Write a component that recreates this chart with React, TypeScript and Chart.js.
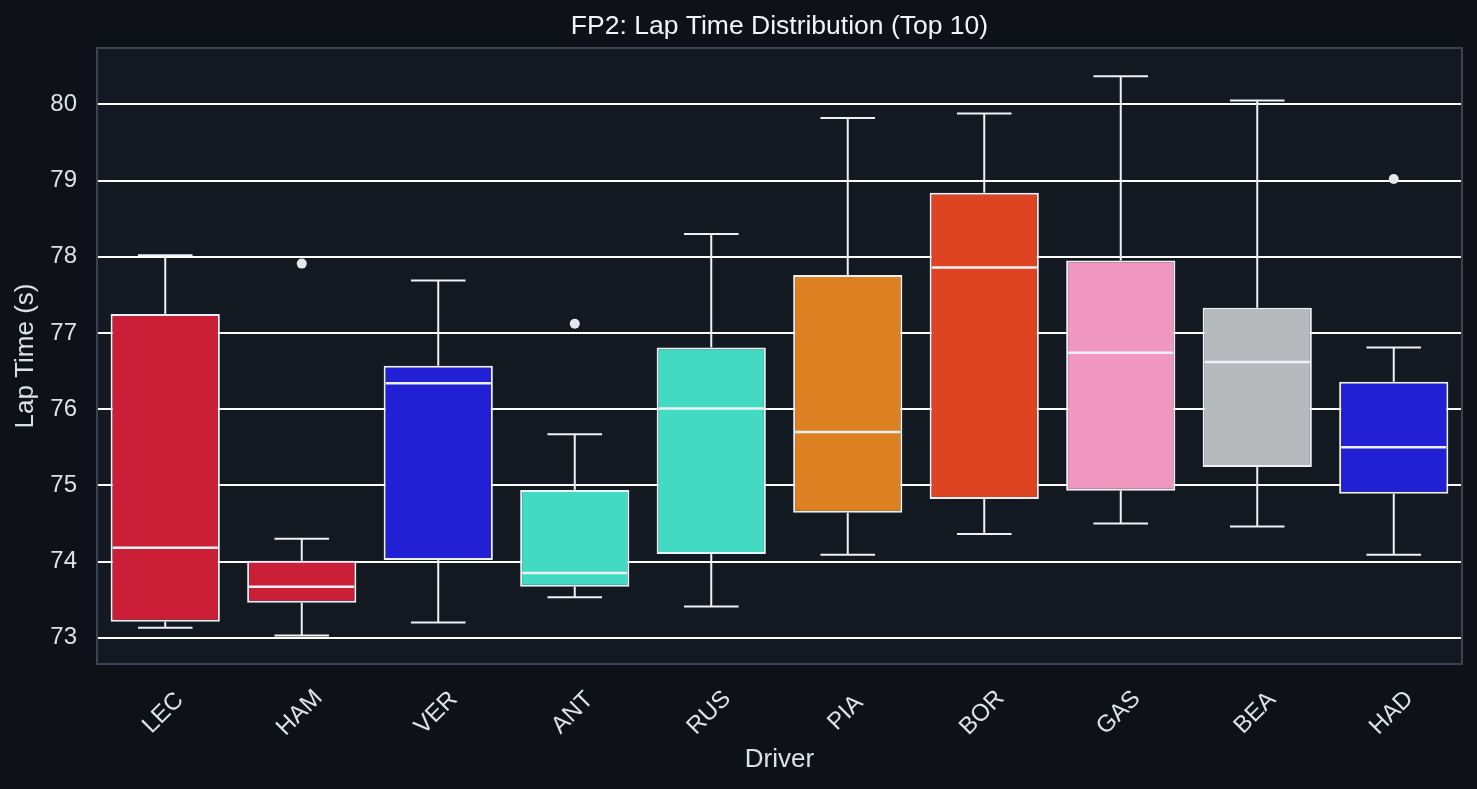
import React, { useEffect, useRef } from 'react';
import { Chart, registerables } from 'chart.js';

Chart.register(...registerables);

// ---- Data ----
const drivers = ['LEC', 'HAM', 'VER', 'ANT', 'RUS', 'PIA', 'BOR', 'GAS', 'BEA', 'HAD'];
const whiskerLow = [73.13, 73.03, 73.2, 73.53, 73.41, 74.09, 74.36, 74.5, 74.46, 74.09];
const q1 = [73.21, 73.46, 74.02, 73.67, 74.1, 74.64, 74.82, 74.93, 75.24, 74.89];
const medians = [74.18, 73.67, 76.34, 73.85, 76.01, 75.7, 77.86, 76.74, 76.62, 75.5];
const q3 = [77.25, 74.01, 76.57, 74.94, 76.81, 77.76, 78.84, 77.95, 77.33, 76.36];
const whiskerHigh = [78.02, 74.3, 77.69, 75.67, 78.3, 79.82, 79.88, 80.37, 80.05, 76.81];
const outliers: (number | null)[] = [null, 77.91, null, 77.12, null, null, null, null, null, 79.02];
const boxColors = ['#CB1E37', '#CB1E37', '#2220D4', '#43DAC4', '#43DAC4', '#DD8021', '#DE4322', '#EF97BE', '#B7BABD', '#2220D4'];
const yTicks = [73, 74, 75, 76, 77, 78, 79, 80];

const FONT = "'Liberation Sans', Arial, Helvetica, sans-serif";
const EDGE = '#eef1f7';
const TEXT = '#dde1e8';
const FIG_BG = '#0e1118';
const AX_BG = '#131920';
const FRAME = '#3b4251';

const bgPlugin = {
  id: 'bgPlugin',
  beforeDraw(chart: any) {
    const { ctx, chartArea, width, height } = chart;
    ctx.save();
    ctx.fillStyle = FIG_BG;
    ctx.fillRect(0, 0, width, height);
    ctx.fillStyle = AX_BG;
    ctx.fillRect(chartArea.left, chartArea.top, chartArea.right - chartArea.left, chartArea.bottom - chartArea.top);
    ctx.restore();
  },
};

const boxPlugin = {
  id: 'boxExtras',
  afterDatasetsDraw(chart: any) {
    const meta = chart.getDatasetMeta(0);
    const ys = chart.scales.y;
    const ctx = chart.ctx;
    ctx.save();
    ctx.strokeStyle = EDGE;
    const seg = (x1: number, y1: number, x2: number, y2: number, w: number) => {
      ctx.lineWidth = w;
      ctx.beginPath();
      ctx.moveTo(x1, y1);
      ctx.lineTo(x2, y2);
      ctx.stroke();
    };
    meta.data.forEach((bar: any, i: number) => {
      const { x, width } = bar.getProps(['x', 'width'], true);
      const half = width / 2;
      const yQ1 = ys.getPixelForValue(q1[i]);
      const yQ3 = ys.getPixelForValue(q3[i]);
      const yMed = ys.getPixelForValue(medians[i]);
      const yLo = ys.getPixelForValue(whiskerLow[i]);
      const yHi = ys.getPixelForValue(whiskerHigh[i]);
      // median
      seg(x - half + 2, yMed, x + half - 2, yMed, 2.5);
      // whiskers
      seg(x, yQ3, x, yHi, 2);
      seg(x - half / 2, yHi, x + half / 2, yHi, 2);
      seg(x, yQ1, x, yLo, 2);
      seg(x - half / 2, yLo, x + half / 2, yLo, 2);
    });
    ctx.restore();
  },
};

const labelsPlugin = {
  id: 'xLabels',
  afterDraw(chart: any) {
    const { ctx, chartArea } = chart;
    const xs = chart.scales.x;
    ctx.save();
    // frame
    ctx.strokeStyle = FRAME;
    ctx.lineWidth = 2;
    ctx.strokeRect(chartArea.left, chartArea.top, chartArea.right - chartArea.left, chartArea.bottom - chartArea.top);
    // rotated x tick labels, centered under tick
    ctx.font = `24px ${FONT}`;
    ctx.fillStyle = TEXT;
    ctx.textAlign = 'center';
    ctx.textBaseline = 'middle';
    drivers.forEach((d, i) => {
      const px = xs.getPixelForTick(i);
      ctx.save();
      ctx.translate(px - 2, 713);
      ctx.rotate(-Math.PI / 4);
      ctx.fillText(d, 0, 0);
      ctx.restore();
    });
    ctx.restore();
  },
};

export default function App() {
  const ref = useRef<HTMLCanvasElement>(null);

  useEffect(() => {
    document.body.style.margin = '0';
    document.body.style.background = FIG_BG;
    const canvas = ref.current;
    if (!canvas) return;
    const chart = new Chart(canvas, {
      type: 'bar',
      data: {
        labels: drivers,
        datasets: [
          {
            type: 'bar',
            data: q1.map((v, i) => [v, q3[i]]) as any,
            backgroundColor: boxColors,
            borderColor: EDGE,
            borderWidth: 2,
            borderSkipped: false,
            barPercentage: 0.8,
            categoryPercentage: 1.0,
          } as any,
          {
            type: 'line',
            data: outliers as any,
            showLine: false,
            pointRadius: 5,
            pointBackgroundColor: '#e6e8ee',
            pointBorderColor: '#e6e8ee',
            pointBorderWidth: 0,
          } as any,
        ],
      },
      options: {
        responsive: false,
        animation: false,
        layout: { padding: { left: 0, right: 15, top: 0, bottom: 0 } },
        plugins: {
          legend: { display: false },
          tooltip: { enabled: false },
          title: {
            display: true,
            text: 'FP2: Lap Time Distribution (Top 10)',
            color: '#f2f4f7',
            fullSize: false,
            font: { size: 26.5, family: FONT, weight: 'normal' },
            padding: { top: 11, bottom: 5.2 },
          },
        },
        scales: {
          x: {
            type: 'category',
            grid: { display: false },
            border: { display: false },
            ticks: { display: false },
            title: {
              display: true,
              text: 'Driver',
              color: TEXT,
              font: { size: 26, family: FONT },
              padding: { top: 0, bottom: 14 },
            },
            afterFit: (s: any) => {
              s.height = 125;
            },
          },
          y: {
            type: 'linear',
            min: 72.655,
            max: 80.74,
            afterBuildTicks: (s: any) => {
              s.ticks = yTicks.map((v) => ({ value: v }));
            },
            grid: { color: '#ffffff', lineWidth: 2, drawTicks: false },
            border: { display: false },
            ticks: { color: TEXT, font: { size: 24, family: FONT }, padding: 20 },
            title: {
              display: true,
              text: 'Lap Time (s)',
              color: TEXT,
              font: { size: 26, family: FONT },
              padding: { top: 10, bottom: 0 },
            },
            afterFit: (s: any) => {
              s.width = 97;
            },
          },
        },
      },
      plugins: [bgPlugin, boxPlugin, labelsPlugin],
    });
    return () => chart.destroy();
  }, []);

  return (
    <div style={{ width: 1477, height: 789, background: FIG_BG }}>
      <canvas ref={ref} width={1477} height={789} style={{ display: 'block' }} />
    </div>
  );
}
